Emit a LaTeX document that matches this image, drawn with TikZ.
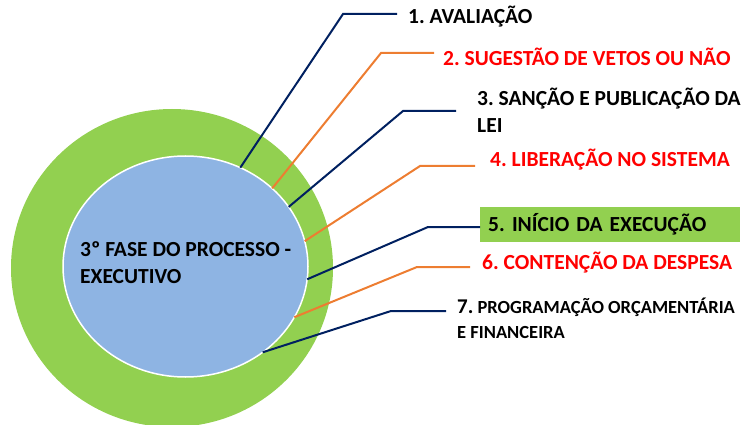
\documentclass[tikz,border=0pt]{standalone}
\usepackage{fontspec}
\setmainfont{Carlito}
\usetikzlibrary{shapes.geometric}
\definecolor{navy}{HTML}{002060}
\definecolor{orng}{HTML}{ED7D31}
\definecolor{lgreen}{HTML}{92D050}
\definecolor{lblue}{HTML}{8EB4E3}
\definecolor{txtred}{HTML}{FF0000}
\frenchspacing
\begin{document}
\begin{tikzpicture}[x=1pt,y=-1pt,
  lbl/.style={font=\bfseries\fontsize{21.5}{27}\selectfont, anchor=base west, inner ysep=0pt, align=left},
  navyline/.style={draw=navy, line width=2pt},
  orangeline/.style={draw=orng, line width=2pt}]
\useasboundingbox (0,0) rectangle (755,425);
\node[ellipse, fill=lgreen, minimum width=322pt, minimum height=318pt, inner sep=0pt, outer sep=0pt] (ring) at (172,268) {};
\node[ellipse, fill=lblue, draw=white, line width=1.5pt, minimum width=245pt, minimum height=221pt, inner sep=0pt, outer sep=0pt] (core) at (185.5,266.5) {};
\node[lbl, inner xsep=0pt] (title) at (80,283.3) {3º FASE DO PROCESSO -\\EXECUTIVO};

\node[lbl, inner xsep=11pt] (t1) at (397,24) {1. AVALIAÇÃO};
\node[lbl, inner xsep=9pt, text=txtred] (t2) at (434,65.7) {2. SUGESTÃO DE VETOS OU NÃO};
\node[lbl, inner xsep=21pt] (t3) at (456,133) {3. SANÇÃO E PUBLICAÇÃO DA\\LEI};
\node[lbl, inner xsep=15pt, text=txtred] (t4) at (475,166) {4. LIBERAÇÃO NO SISTEMA};
\node[font=\bfseries\fontsize{21.5}{27}\selectfont, anchor=west, fill=lgreen, inner xsep=8pt, inner ysep=0pt,
      text width=244pt, align=left, minimum height=35pt, text height=13.7pt, text depth=0pt] (t5) at (480,224.5) {5. INÍCIO DA EXECUÇÃO};
\node[lbl, inner xsep=12pt, text=txtred] (t6) at (470,269) {6. CONTENÇÃO DA DESPESA};
\node[lbl, inner xsep=11pt, font=\bfseries\fontsize{18.5}{25}\selectfont] (t7) at (446,338) {{\fontsize{21}{25}\selectfont 7.} PROGRAMAÇÃO ORÇAMENTÁRIA\\E FINANCEIRA};

\coordinate (e1) at (343,14);
\coordinate (e2) at (381,53);
\coordinate (e3) at (403,111);
\coordinate (e4) at (420,166);
\coordinate (e5) at (428,227);
\coordinate (e6) at (417,267);
\coordinate (e7) at (391,311);

\draw[navyline] (core.61) -- (e1) -- (e1 -| t1.west);
\draw[orangeline] (core.42) -- (e2) -- (e2 -| t2.west);
\draw[navyline] (core.30) -- (e3) -- (e3 -| t3.west);
\draw[orangeline] (core.12) -- (e4) -- (e4 -| t4.west);
\draw[navyline] (core.-6) -- (e5) -- (e5 -| t5.west);
\draw[orangeline] (core.-25) -- (e6) -- (e6 -| t6.west);
\draw[navyline] (core.-48) -- (e7) -- (e7 -| t7.west);
\end{tikzpicture}
\end{document}
